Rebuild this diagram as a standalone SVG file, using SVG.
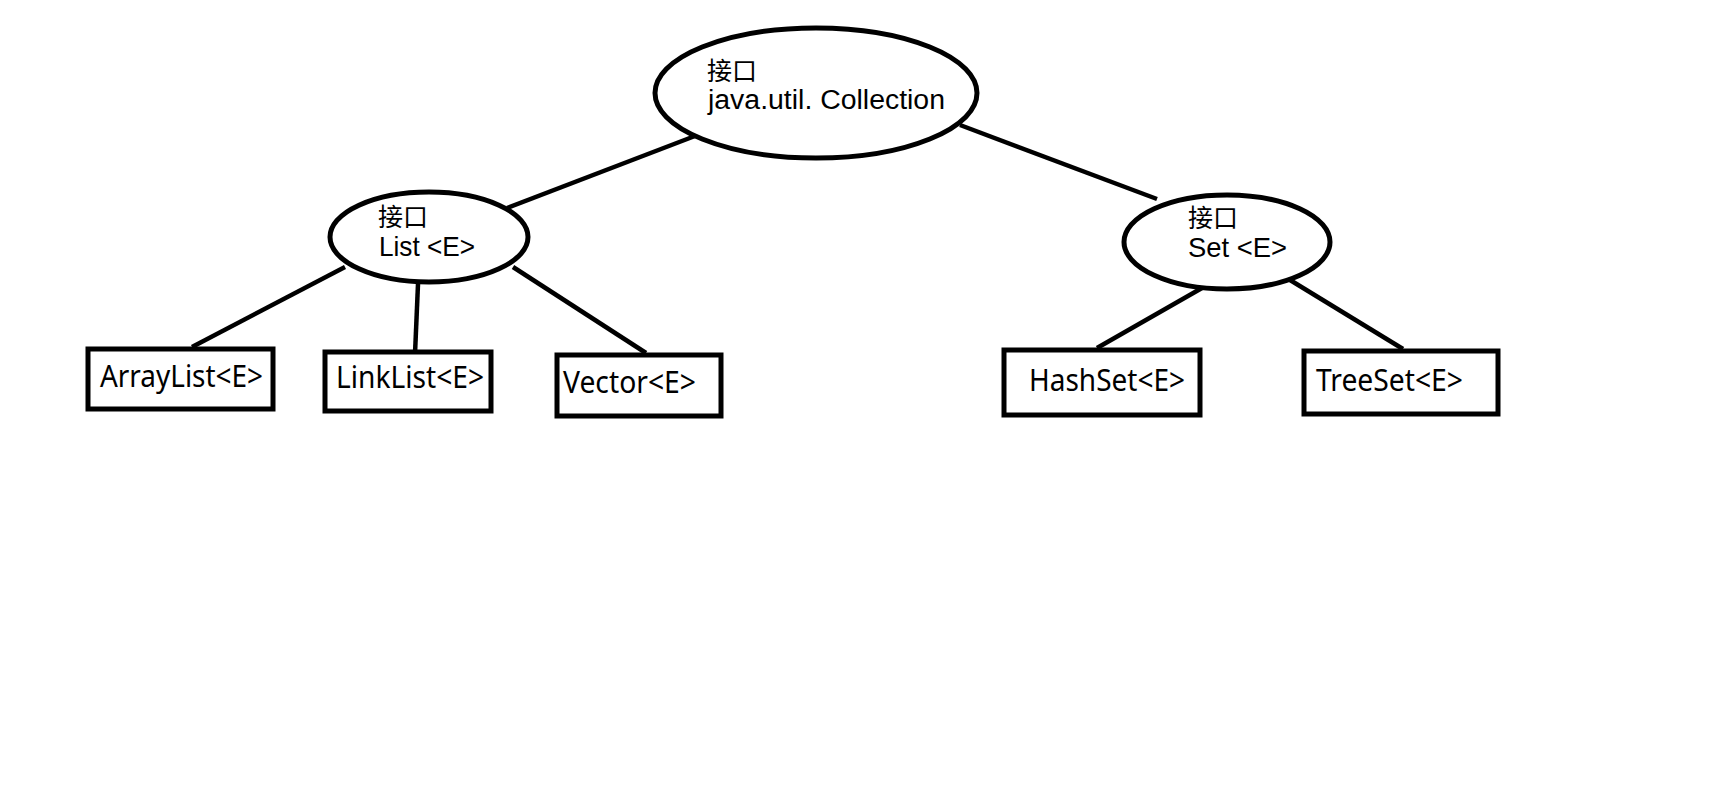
<svg xmlns="http://www.w3.org/2000/svg" width="1713" height="788" viewBox="0 0 1713 788">
<style>
.shape{fill:#fff;stroke:#000;stroke-width:5}
.conn{stroke:#000;stroke-width:4.5;fill:none}
.t{font-family:"Noto Sans","Open Sans","Noto Sans CJK SC",sans-serif;fill:#000}
.e{font-family:"Liberation Sans","Noto Sans","Noto Sans CJK SC",sans-serif;fill:#000}
.cjk{font-family:"Noto Sans CJK SC","Noto Sans CJK JP",sans-serif;fill:#000;font-size:25px}
.et{font-size:27px}
.lt{font-size:28px}
.bt{font-size:30px}
</style>
<rect width="1713" height="788" fill="#fff"/>
<g id="connectors">
<line class="conn" x1="695" y1="136" x2="507" y2="208"/>
<line class="conn" x1="960" y1="125" x2="1157" y2="199"/>
<line class="conn" x1="345" y1="267" x2="192" y2="347"/>
<line class="conn" x1="418" y1="284" x2="415" y2="354"/>
<line class="conn" x1="513" y1="267" x2="646" y2="353"/>
<line class="conn" x1="1202" y1="288" x2="1097" y2="348"/>
<line class="conn" x1="1290" y1="280" x2="1403" y2="349"/>
</g>
<g id="collection">
<ellipse class="shape" cx="816" cy="93" rx="161" ry="65"/>
<text class="cjk" x="707" y="80">接口</text>
<text class="e et" x="708" y="109" textLength="237" lengthAdjust="spacingAndGlyphs">java.util. Collection</text>
</g>
<g id="list">
<ellipse class="shape" cx="429" cy="237" rx="99" ry="45"/>
<text class="cjk" x="378" y="226">接口</text>
<text class="e lt" x="379" y="256" textLength="96" lengthAdjust="spacingAndGlyphs">List &lt;E&gt;</text>
</g>
<g id="set">
<ellipse class="shape" cx="1227" cy="242" rx="103" ry="47"/>
<text class="cjk" x="1188" y="226.5">接口</text>
<text class="e lt" x="1188" y="257" textLength="99" lengthAdjust="spacingAndGlyphs">Set  &lt;E&gt;</text>
</g>
<g id="arraylist">
<rect class="shape" x="88" y="349" width="185" height="60"/>
<text class="t bt" x="100" y="387" textLength="163" lengthAdjust="spacingAndGlyphs">ArrayList&lt;E&gt;</text>
</g>
<g id="linklist">
<rect class="shape" x="325" y="352" width="166" height="59"/>
<text class="t bt" x="336" y="388" textLength="148" lengthAdjust="spacingAndGlyphs">LinkList&lt;E&gt;</text>
</g>
<g id="vector">
<rect class="shape" x="557" y="355" width="164" height="61"/>
<text class="t bt" x="563" y="393" textLength="133" lengthAdjust="spacingAndGlyphs">Vector&lt;E&gt;</text>
</g>
<g id="hashset">
<rect class="shape" x="1004" y="350" width="196" height="65"/>
<text class="t bt" x="1029" y="391" textLength="156" lengthAdjust="spacingAndGlyphs">HashSet&lt;E&gt;</text>
</g>
<g id="treeset">
<rect class="shape" x="1304" y="351" width="194" height="63"/>
<text class="t bt" x="1316" y="391" textLength="147" lengthAdjust="spacingAndGlyphs">TreeSet&lt;E&gt;</text>
</g>
</svg>
